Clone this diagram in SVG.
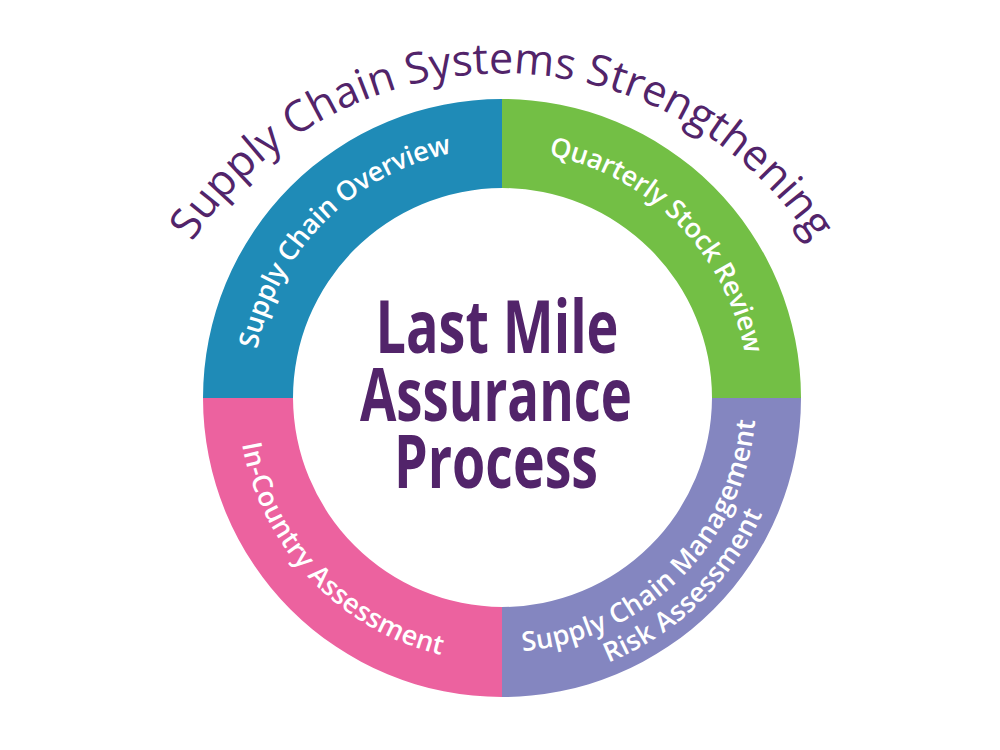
<svg xmlns="http://www.w3.org/2000/svg" width="1000" height="750" viewBox="0 0 1000 750">
<style>
.t{font-family:"Open Sans","Liberation Sans",sans-serif;}
.w{fill:#fff;font-size:27px;font-weight:600;letter-spacing:.3px;}
.n{letter-spacing:-.3px;}
.o{fill:#52246a;font-size:43.2px;}
.c{fill:#52246a;font-size:74px;font-weight:700;font-family:"Open Sans","Liberation Sans",sans-serif;text-anchor:middle;}
</style>
<defs>
<path id="pTitle" d="M155 317 A 369 369 0 0 1 849 317"/>
<path id="p1" d="M261 463.5 A 250 250 0 0 1 566 156.3"/>
<path id="p2" d="M439 159 A 247 247 0 0 1 740 463"/>
<path id="p3a" d="M435.4 643 A 254 254 0 0 0 747.6 333"/>
<path id="p3b" d="M423.4 672 A 285 285 0 0 0 778.5 329"/>
<path id="p4" d="M249 322.6 A 264 264 0 0 0 563 654.8"/>
</defs>
<g id="seg-overview"><path d="M203 398 A 299 299 0 0 1 502 99 L502 188 A 210 210 0 0 0 293 398 Z" fill="#1f8bb7"/><text class="t w n"><textPath href="#p1" startOffset="50%" text-anchor="middle">Supply Chain Overview</textPath></text></g>
<g id="seg-review"><path d="M502 99 A 299 299 0 0 1 801 398 L712 398 A 210 210 0 0 0 502 188 Z" fill="#73bf45"/><text class="t w n"><textPath href="#p2" startOffset="50%" text-anchor="middle">Quarterly Stock Review</textPath></text></g>
<g id="seg-risk"><path d="M801 398 A 299 299 0 0 1 502 697 L502 607 A 210 210 0 0 0 712 398 Z" fill="#8486c0"/><text class="t w"><textPath href="#p3a" startOffset="50%" text-anchor="middle">Supply Chain Management</textPath></text><text class="t w"><textPath href="#p3b" startOffset="50%" text-anchor="middle">Risk Assessment</textPath></text></g>
<g id="seg-incountry"><path d="M203 398 L293 398 A 210 210 0 0 0 502 607 L502 697 A 299 299 0 0 1 203 398 Z" fill="#ec629f"/><text class="t w"><textPath href="#p4" startOffset="50%" text-anchor="middle">In-Country Assessment</textPath></text></g>
<g id="title"><text class="t o"><textPath href="#pTitle" startOffset="50%" text-anchor="middle">Supply Chain Systems Strengthening</textPath></text></g>
<g id="center"><text class="c" x="497" y="353" textLength="243" lengthAdjust="spacingAndGlyphs">Last Mile</text><text class="c" x="496" y="421" textLength="272" lengthAdjust="spacingAndGlyphs">Assurance</text><text class="c" x="496" y="488" textLength="204" lengthAdjust="spacingAndGlyphs">Process</text></g>
<g id="connectors"/>
</svg>
